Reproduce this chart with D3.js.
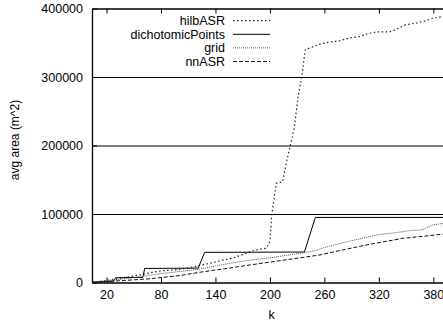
<!DOCTYPE html>
<html>
<head>
<meta charset="utf-8">
<script src="https://cdn.jsdelivr.net/npm/d3@7"></script>
<style>
  body { margin: 0; background: #fff; overflow: hidden; }
  svg { display: block; font-family: "Liberation Sans", Arial, sans-serif; }
</style>
</head>
<body>
<svg width="443" height="327"></svg>
<script>
// the data
var xTicks = [20, 80, 140, 200, 260, 320, 380];
var yTicks = [0, 100000, 200000, 300000, 400000];
var gridTicks = [100000, 200000, 300000];

var hilbK = [4, 20, 40, 60, 80, 100, 120, 140, 160, 184, 196, 200, 202, 207, 214, 218, 222, 227, 231, 235, 239, 247, 255, 266, 277, 288, 299, 307, 318, 332, 338, 349, 362, 371, 380, 389, 400];
var hilbV = [500, 3000, 7000, 12000, 17000, 19000, 24000, 30000, 36000, 47500, 50000, 59600, 98600, 145000, 147000, 174000, 198000, 227000, 271000, 300000, 340000, 344000, 348000, 351000, 353000, 357000, 359000, 363000, 366000, 366000, 369000, 376000, 379000, 382000, 386000, 388000, 390000];

var dichoK = [4, 20, 28, 30, 60, 62, 121, 128, 238, 250, 400];
var dichoV = [500, 1500, 2000, 7000, 7500, 20500, 21000, 44000, 44500, 95000, 95000];

var gridK = [4, 20, 40, 60, 80, 100, 120, 140, 160, 180, 200, 220, 240, 250, 260, 280, 300, 320, 340, 354, 368, 379, 400];
var gridV = [300, 2500, 5500, 9000, 13000, 16000, 19000, 24000, 29000, 33000, 36000, 40000, 44000, 46500, 51000, 58000, 64000, 70000, 73000, 75700, 77000, 84000, 88000];

var nnK = [4, 20, 40, 68, 100, 123, 150, 180, 233, 255, 280, 310, 347, 372, 400];
var nnV = [0, 1500, 3000, 5500, 10000, 15000, 20000, 26000, 36000, 40200, 47500, 55800, 64600, 67900, 72000];

var seriesNames = ['hilbASR', 'dichotomicPoints', 'grid', 'nnASR'];

var svg = d3.select('svg');

// plot box (right edge falls outside the window, as in the picture)
var plotLeft = 92, plotRight = 451.5, plotTop = 8.5, plotBottom = 282.5;

var x = d3.scaleLinear().domain([4, 400]).range([plotLeft, plotRight]);
var y = d3.scaleLinear().domain([0, 400000]).range([plotBottom, plotTop]);

var series = [
  { name: seriesNames[0], k: hilbK, v: hilbV, dash: '1.5,2.5', color: '#222', width: 1.2 },
  { name: seriesNames[1], k: dichoK, v: dichoV, dash: null, color: '#000', width: 1 },
  { name: seriesNames[2], k: gridK, v: gridV, dash: '1,1', color: '#555', width: 1 },
  { name: seriesNames[3], k: nnK, v: nnV, dash: '4,2', color: '#111', width: 1 }
];

var fontSize = '12.5px';

// horizontal grid lines
svg.append('g')
  .attr('transform', 'translate(' + plotLeft + ',0)')
  .call(d3.axisLeft(y).tickValues(gridTicks).tickSize(-(plotRight - plotLeft)).tickFormat(''))
  .call(function (g) {
    g.select('.domain').remove();
    g.selectAll('line').attr('stroke', '#000').attr('stroke-width', 1);
  });

// bottom axis (ticks point inward)
svg.append('g')
  .attr('transform', 'translate(0,' + plotBottom + ')')
  .call(d3.axisBottom(x).tickValues(xTicks).tickSize(-5).tickPadding(7.5).tickSizeOuter(0))
  .call(function (g) {
    g.selectAll('text').style('font-size', fontSize).attr('fill', '#000');
    g.selectAll('line').attr('stroke', '#000');
    g.select('.domain').attr('stroke', '#000').attr('stroke-width', 1.3);
  });

// top border with mirrored ticks
svg.append('g')
  .attr('transform', 'translate(0,' + plotTop + ')')
  .call(d3.axisTop(x).tickValues(xTicks).tickSize(-5).tickSizeOuter(0).tickFormat(''))
  .call(function (g) {
    g.selectAll('line').attr('stroke', '#000');
    g.select('.domain').attr('stroke', '#000').attr('stroke-width', 1.3);
  });

// left axis
svg.append('g')
  .attr('transform', 'translate(' + plotLeft + ',0)')
  .call(d3.axisLeft(y).tickValues(yTicks).tickSize(-5).tickPadding(9).tickSizeOuter(0).tickFormat(d3.format('d')))
  .call(function (g) {
    g.selectAll('text').style('font-size', fontSize).attr('fill', '#000');
    g.selectAll('line').attr('stroke', '#000');
    g.select('.domain').attr('stroke', '#000').attr('stroke-width', 1.3);
  });

// series lines
var line = d3.line()
  .x(function (d) { return x(d[0]); })
  .y(function (d) { return y(d[1]); });

svg.append('g')
  .selectAll('path')
  .data(series)
  .enter()
  .append('path')
  .attr('fill', 'none')
  .attr('stroke', function (d) { return d.color; })
  .attr('stroke-width', function (d) { return d.width; })
  .attr('stroke-dasharray', function (d) { return d.dash; })
  .attr('d', function (d) {
    return line(d.k.map(function (k, i) { return [k, d.v[i]]; }));
  });

// legend
var legend = svg.append('g')
  .selectAll('g')
  .data(series)
  .enter()
  .append('g')
  .attr('transform', function (d, i) { return 'translate(0,' + (20.7 + i * 13.6) + ')'; });

legend.append('text')
  .attr('x', 225)
  .attr('dy', '0.35em')
  .attr('text-anchor', 'end')
  .style('font-size', fontSize)
  .text(function (d) { return d.name; });

legend.append('line')
  .attr('x1', 233)
  .attr('x2', 270)
  .attr('stroke', function (d) { return d.color; })
  .attr('stroke-width', function (d) { return d.width; })
  .attr('stroke-dasharray', function (d) { return d.dash; });

// axis labels
svg.append('text')
  .attr('x', 271.5)
  .attr('y', 315)
  .attr('dy', '0.35em')
  .attr('text-anchor', 'middle')
  .style('font-size', fontSize)
  .text('k');

svg.append('text')
  .attr('transform', 'translate(15,' + 140 + ') rotate(-90)')
  .attr('dy', '0.35em')
  .attr('text-anchor', 'middle')
  .style('font-size', '12px')
  .text('avg area (m^2)');
</script>
</body>
</html>
